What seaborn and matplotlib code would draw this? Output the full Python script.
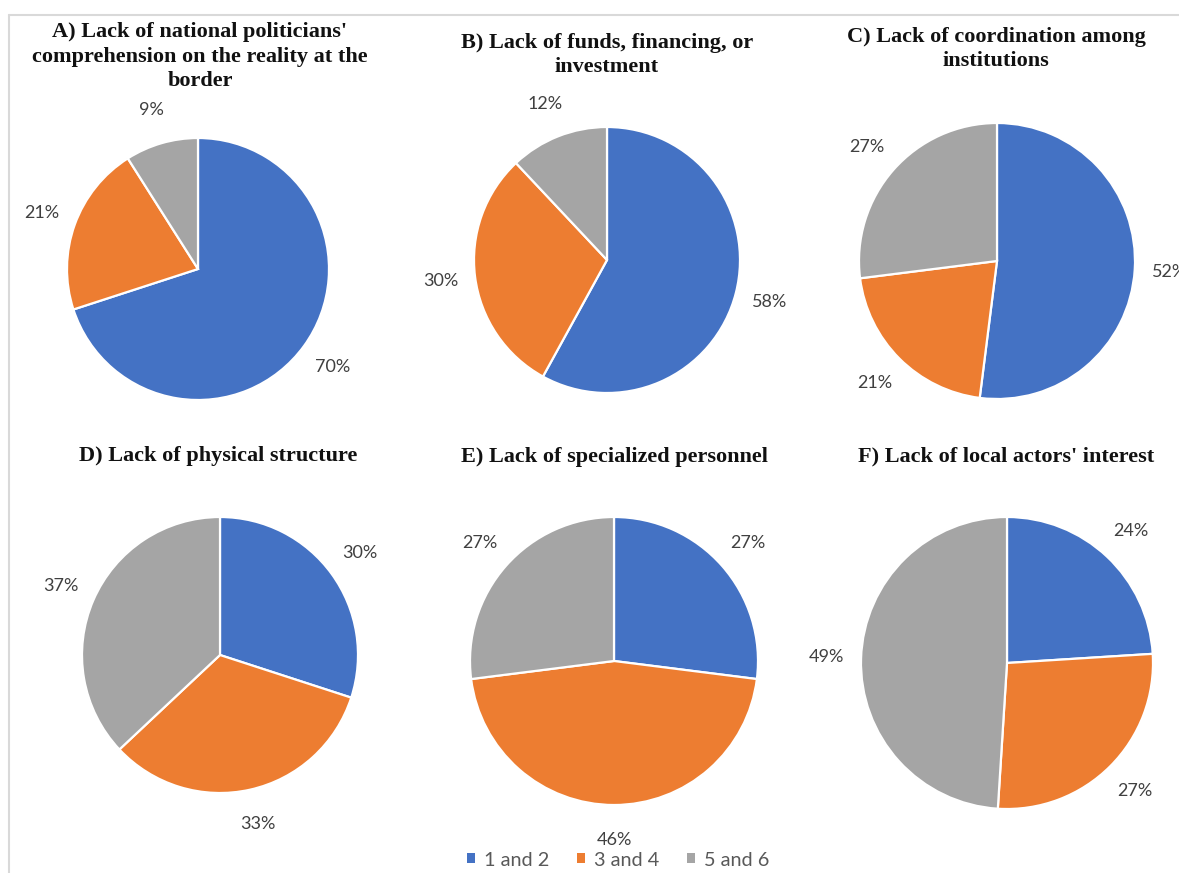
import matplotlib
matplotlib.use("Agg")
import matplotlib.pyplot as plt
from matplotlib.lines import Line2D
from matplotlib.patches import Patch
import seaborn as sns

sns.set_theme(style="white")

# Survey answers grouped by score ranges
groups = ["1 and 2", "3 and 4", "5 and 6"]
titles = [
    "A) Lack of national politicians'\ncomprehension on the reality at the\nborder",
    "B) Lack of funds, financing, or\ninvestment",
    "C) Lack of coordination among\ninstitutions",
    "D) Lack of physical structure",
    "E) Lack of specialized personnel",
    "F) Lack of local actors' interest",
]
share_a = [70, 21, 9]
share_b = [58, 30, 12]
share_c = [52, 21, 27]
share_d = [30, 33, 37]
share_e = [27, 46, 27]
share_f = [24, 27, 49]
shares = [share_a, share_b, share_c, share_d, share_e, share_f]

palette = sns.color_palette(["#4472C4", "#ED7D31", "#A5A5A5"])

W, H = 1179, 873
fig = plt.figure(figsize=(W / 100, H / 100), dpi=100)
fig.patch.set_facecolor("white")

# pie centres and radii in pixels
layout = [
    (198, 269, 131), (607, 260, 133), (997, 261, 138),
    (220, 655, 138), (614, 661, 144), (1007, 663, 146),
]
title_pos = [(200, 57), (607, 55), (996, 49), (218, 456), (614, 457), (1006, 456)]

for vals, (cx, cy, r), title, (tx, ty) in zip(shares, layout, titles, title_pos):
    ax = fig.add_axes([(cx - r) / W, 1 - (cy + r) / H, 2 * r / W, 2 * r / H])
    ax.pie(
        vals,
        colors=palette,
        startangle=90,
        counterclock=False,
        autopct=lambda p: f"{p:.0f}%",
        pctdistance=1 + 35 / r,
        wedgeprops=dict(edgecolor="white", linewidth=1.6),
        textprops=dict(fontsize=13, color="#404040", family=["Lato", "DejaVu Sans"]),
    )
    ax.set_xlim(-1, 1)
    ax.set_ylim(-1, 1)
    ax.set_aspect("equal")
    ax.axis("off")
    fig.text(tx / W, 1 - ty / H, title, ha="center", va="center",
             fontsize=16, fontweight="bold", family=["Liberation Serif", "DejaVu Serif"],
             color="#111111", linespacing=1.3)

handles = [Patch(facecolor=c, edgecolor="none") for c in palette]
fig.legend(handles, groups, loc="center", bbox_to_anchor=(618 / W, 1 - 860 / H),
           ncol=3, frameon=False, handlelength=0.4, handleheight=0.4,
           handletextpad=0.45, columnspacing=1.4,
           prop=dict(family=["Lato", "DejaVu Sans"], size=14.3), labelcolor="#595959")

# light frame along top and left
fig.add_artist(Line2D([9.5 / W, 9.5 / W], [0, 1 - 15 / H], color="#D9D9D9", lw=1.5))
fig.add_artist(Line2D([9.5 / W, 1], [1 - 15 / H, 1 - 15 / H], color="#D9D9D9", lw=1.5))

fig.savefig("out.png", dpi=100, facecolor="white")
